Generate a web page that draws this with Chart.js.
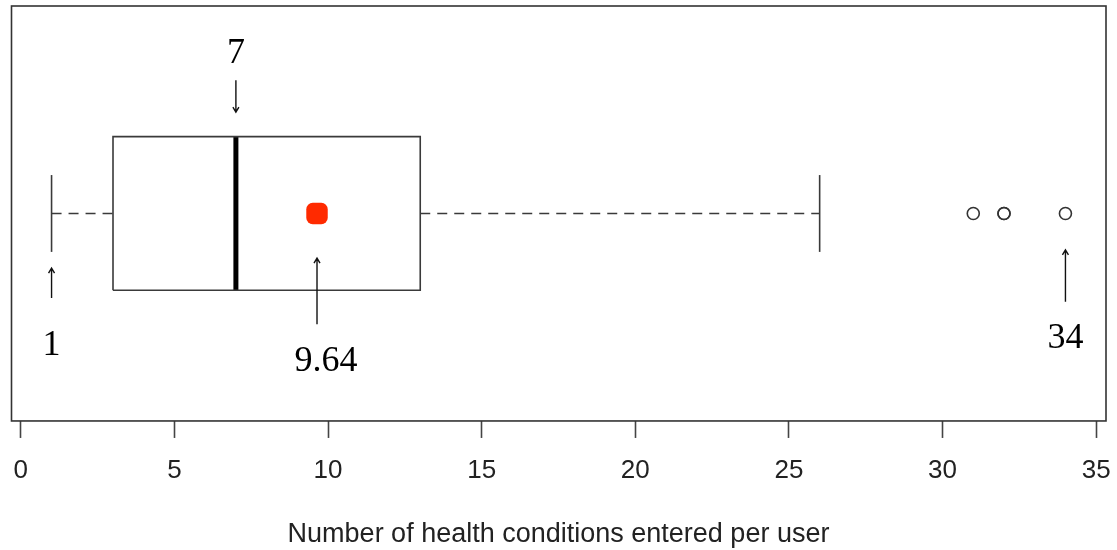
<!DOCTYPE html>
<html><head><meta charset="utf-8">
<script src="https://cdn.jsdelivr.net/npm/chart.js@4.4.1/dist/chart.umd.min.js"></script>
<style>html,body{margin:0;padding:0;background:#fff;}</style>
</head><body>
<canvas id="c" width="1117" height="550"></canvas>
<script>
// ---- data ----
const tickValues = [0, 5, 10, 15, 20, 25, 30, 35];
const boxStats = [1, 3, 7, 13, 26];          // lower whisker, Q1, median, Q3, upper whisker
const meanValue = [9.64];
const outliers = [31, 32, 32, 34];
const annotationValues = [7, 1, 9.64, 34];
const annotationTexts = ['7', '1', '9.64', '34'];
const axisTitle = 'Number of health conditions entered per user';

// ---- layout of annotations (y in axis units, dx in px) ----
const annotationLayout = [
  {textY: 1.392, from: 1.347, to: 1.264, dx: 0},
  {textY: 0.632, from: 0.780, to: 0.858, dx: 0},
  {textY: 0.590, from: 0.712, to: 0.884, dx: 9},
  {textY: 0.650, from: 0.770, to: 0.905, dx: 0}
];

const [wLo, q1, med, q3, wHi] = boxStats;
const yc = 1, half = 0.2, cap = 0.1;
const lineCol = '#3a3a3a';

const datasets = [
  {data: [{x:q1,y:yc-half},{x:q3,y:yc-half},{x:q3,y:yc+half},{x:q1,y:yc+half},{x:q1,y:yc-half}],
   showLine: true, borderColor: lineCol, borderWidth: 1.6, pointRadius: 0, fill: false},
  {data: [{x:med,y:yc-half},{x:med,y:yc+half}], showLine: true, borderColor: '#000', borderWidth: 5, pointRadius: 0, borderCapStyle: 'butt'},
  {data: [{x:wLo,y:yc},{x:q1,y:yc}], showLine: true, borderColor: lineCol, borderWidth: 1.6, borderDash: [10, 7], pointRadius: 0},
  {data: [{x:q3,y:yc},{x:wHi,y:yc}], showLine: true, borderColor: lineCol, borderWidth: 1.6, borderDash: [10, 7], pointRadius: 0},
  {data: [{x:wLo,y:yc-cap},{x:wLo,y:yc+cap}], showLine: true, borderColor: lineCol, borderWidth: 1.6, pointRadius: 0},
  {data: [{x:wHi,y:yc-cap},{x:wHi,y:yc+cap}], showLine: true, borderColor: lineCol, borderWidth: 1.6, pointRadius: 0},
  {data: outliers.map(v => ({x:v, y:yc})), showLine: false, pointRadius: 6, pointBorderWidth: 1.6,
   pointBorderColor: '#333', pointBackgroundColor: 'rgba(0,0,0,0)', pointStyle: 'circle'},
  {data: meanValue.map(v => ({x:v, y:yc})), showLine: false, pointRadius: 12.5, pointBorderWidth: 0,
   pointBackgroundColor: '#ff2a00', pointStyle: 'rectRounded'}
];

const framePlugin = {
  id: 'frameAndNotes',
  afterDatasetsDraw(chart) {
    const {ctx, chartArea: a, scales: {x, y}} = chart;
    ctx.save();
    ctx.strokeStyle = '#333';
    ctx.lineWidth = 1.6;
    ctx.strokeRect(a.left + 0.5, a.top, a.right - a.left - 0.5, a.bottom - a.top);
    ctx.fillStyle = '#000';
    ctx.font = '36px "Liberation Serif", "Times New Roman", serif';
    ctx.textAlign = 'center';
    ctx.textBaseline = 'alphabetic';
    annotationValues.forEach((v, i) => {
      const L = annotationLayout[i];
      const px = x.getPixelForValue(v);
      ctx.fillText(annotationTexts[i], px + L.dx, y.getPixelForValue(L.textY));
      const y0 = y.getPixelForValue(L.from), y1 = y.getPixelForValue(L.to);
      ctx.strokeStyle = '#111';
      ctx.lineWidth = 1.4;
      ctx.beginPath();
      ctx.moveTo(px, y0); ctx.lineTo(px, y1);
      const dir = y1 > y0 ? 1 : -1;
      ctx.moveTo(px - 3, y1 - dir * 5); ctx.lineTo(px, y1); ctx.lineTo(px + 3, y1 - dir * 5);
      ctx.stroke();
    });
    ctx.restore();
  }
};

new Chart(document.getElementById('c'), {
  type: 'scatter',
  data: {datasets},
  options: {
    responsive: false,
    animation: false,
    events: [],
    layout: {autoPadding: false, padding: {left: 11, right: 11, top: 6, bottom: 0}},
    plugins: {legend: {display: false}, tooltip: {enabled: false}},
    scales: {
      x: {
        type: 'linear', min: -0.32, max: 35.32,
        afterBuildTicks: s => { s.ticks = tickValues.map(v => ({value: v})); },
        grid: {drawOnChartArea: false, drawTicks: true, tickLength: 17, color: '#444', tickWidth: 1.6},
        border: {display: false},
        ticks: {padding: 0, color: '#222', font: {family: '"Liberation Sans", Arial, sans-serif', size: 26, lineHeight: 2.54},
                maxRotation: 0, autoSkip: false},
        title: {display: true, text: axisTitle, color: '#222',
                font: {family: '"Liberation Sans", Arial, sans-serif', size: 27, lineHeight: 1.0},
                padding: {top: 17.5, bottom: 1.5}}
      },
      y: {type: 'linear', display: false, min: 0.46, max: 1.54}
    }
  },
  plugins: [framePlugin]
});
</script>
</body></html>
